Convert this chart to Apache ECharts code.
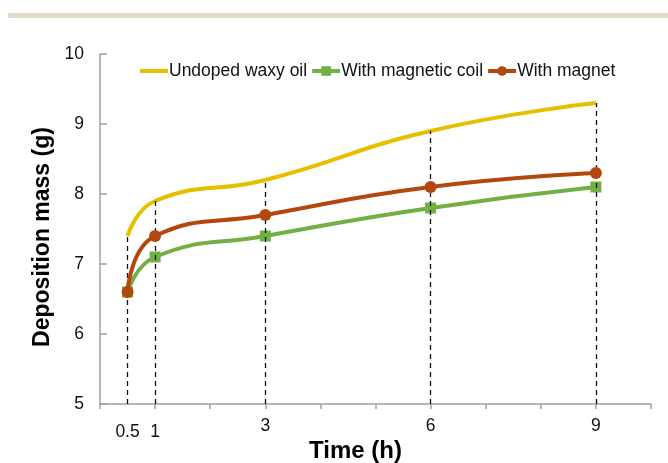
<!DOCTYPE html>
<html>
<head>
<meta charset="utf-8">
<script src="https://cdn.jsdelivr.net/npm/echarts@6/dist/echarts.min.js"></script>
<style>
html,body{margin:0;padding:0;background:#fff;}
#chart{width:668px;height:463px;}
</style>
</head>
<body>
<div id="chart"></div>
<script>
var times = [0.5, 1, 3, 6, 9];
var undoped = [7.4, 7.9, 8.2, 8.9, 9.3];
var magneticCoil = [6.6, 7.1, 7.4, 7.8, 8.1];
var magnet = [6.6, 7.4, 7.7, 8.1, 8.3];
var xTickLabels = [0.5, 1, 3, 6, 9];
var seriesNames = ['Undoped waxy oil', 'With magnetic coil', 'With magnet'];

function pairs(vals) { return times.map(function (t, i) { return [t, vals[i]]; }); }
var dropLines = times.map(function (t, i) {
  return [{ coord: [t, 5] }, { coord: [t, undoped[i]] }];
});

var chart = echarts.init(document.getElementById('chart'));
chart.setOption({
  animation: false,
  textStyle: { fontFamily: 'Liberation Sans, Arial, sans-serif' },
  graphic: [{
    type: 'rect', left: 8, top: 13, shape: { width: 660, height: 5 },
    style: { fill: '#E2DBCA' }, silent: true
  }],
  legend: {
    left: 135, top: 57, itemGap: 3, itemWidth: 28, itemHeight: 12,
    textStyle: { fontSize: 17.5, color: '#111', padding: [0, 0, 0, -4] },
    lineStyle: { width: 4 },
    data: [
      { name: seriesNames[0], icon: 'path://M0,0 L28,0 L28,4 L0,4 Z' },
      { name: seriesNames[1] },
      { name: seriesNames[2] }
    ]
  },
  grid: { left: 100, right: 17, top: 54, bottom: 59, containLabel: false, outerBoundsMode: 'none' },
  xAxis: {
    type: 'value', min: 0, max: 10, interval: 1,
    name: 'Time (h)', nameLocation: 'middle', nameGap: 35, nameMoveOverlap: false,
    nameTextStyle: { fontSize: 24, fontWeight: 'bold', color: '#000', padding: [0, 40, 0, 0] },
    axisLine: { lineStyle: { color: '#A0A0A0', width: 1.5 } },
    axisTick: { show: true, inside: false, length: 5, lineStyle: { color: '#A0A0A0', width: 1.5 } },
    splitLine: { show: false },
    axisLabel: {
      customValues: xTickLabels, fontSize: 17.5, color: '#111', margin: 13,
      formatter: function (v) { return v < 2 ? '{low|' + v + '}' : String(v); },
      rich: { low: { fontSize: 17.5, color: '#111', padding: [6, 0, 0, 0] } }
    }
  },
  yAxis: {
    type: 'value', min: 5, max: 10, interval: 1,
    name: 'Deposition mass (g)', nameLocation: 'middle', nameGap: 46, nameMoveOverlap: false,
    nameTextStyle: { fontSize: 23, fontWeight: 'bold', color: '#000', padding: [0, 16, 0, 0] },
    axisLine: { show: true, lineStyle: { color: '#A0A0A0', width: 1.5 } },
    axisTick: { show: true, inside: true, length: 7, lineStyle: { color: '#A0A0A0', width: 1.5 } },
    splitLine: { show: false },
    axisLabel: { fontSize: 17.5, color: '#111', margin: 16 }
  },
  series: [
    {
      name: seriesNames[0], type: 'line', smooth: 0.5, symbol: 'none',
      data: pairs(undoped), z: 3,
      lineStyle: { color: '#E5BF00', width: 4 }, itemStyle: { color: '#E5BF00' },
      markLine: {
        silent: true, symbol: 'none', label: { show: false },
        lineStyle: { color: '#111', type: [5, 4], width: 1.3 },
        data: dropLines
      }
    },
    {
      name: seriesNames[1], type: 'line', smooth: 0.5, symbol: 'rect', symbolSize: 11,
      data: pairs(magneticCoil), z: 4,
      lineStyle: { color: '#72AF45', width: 4 }, itemStyle: { color: '#72AF45' }
    },
    {
      name: seriesNames[2], type: 'line', smooth: 0.5, symbol: 'circle', symbolSize: 12,
      data: pairs(magnet), z: 5,
      lineStyle: { color: '#B4470E', width: 4 }, itemStyle: { color: '#B4470E' }
    }
  ]
});
</script>
</body>
</html>
